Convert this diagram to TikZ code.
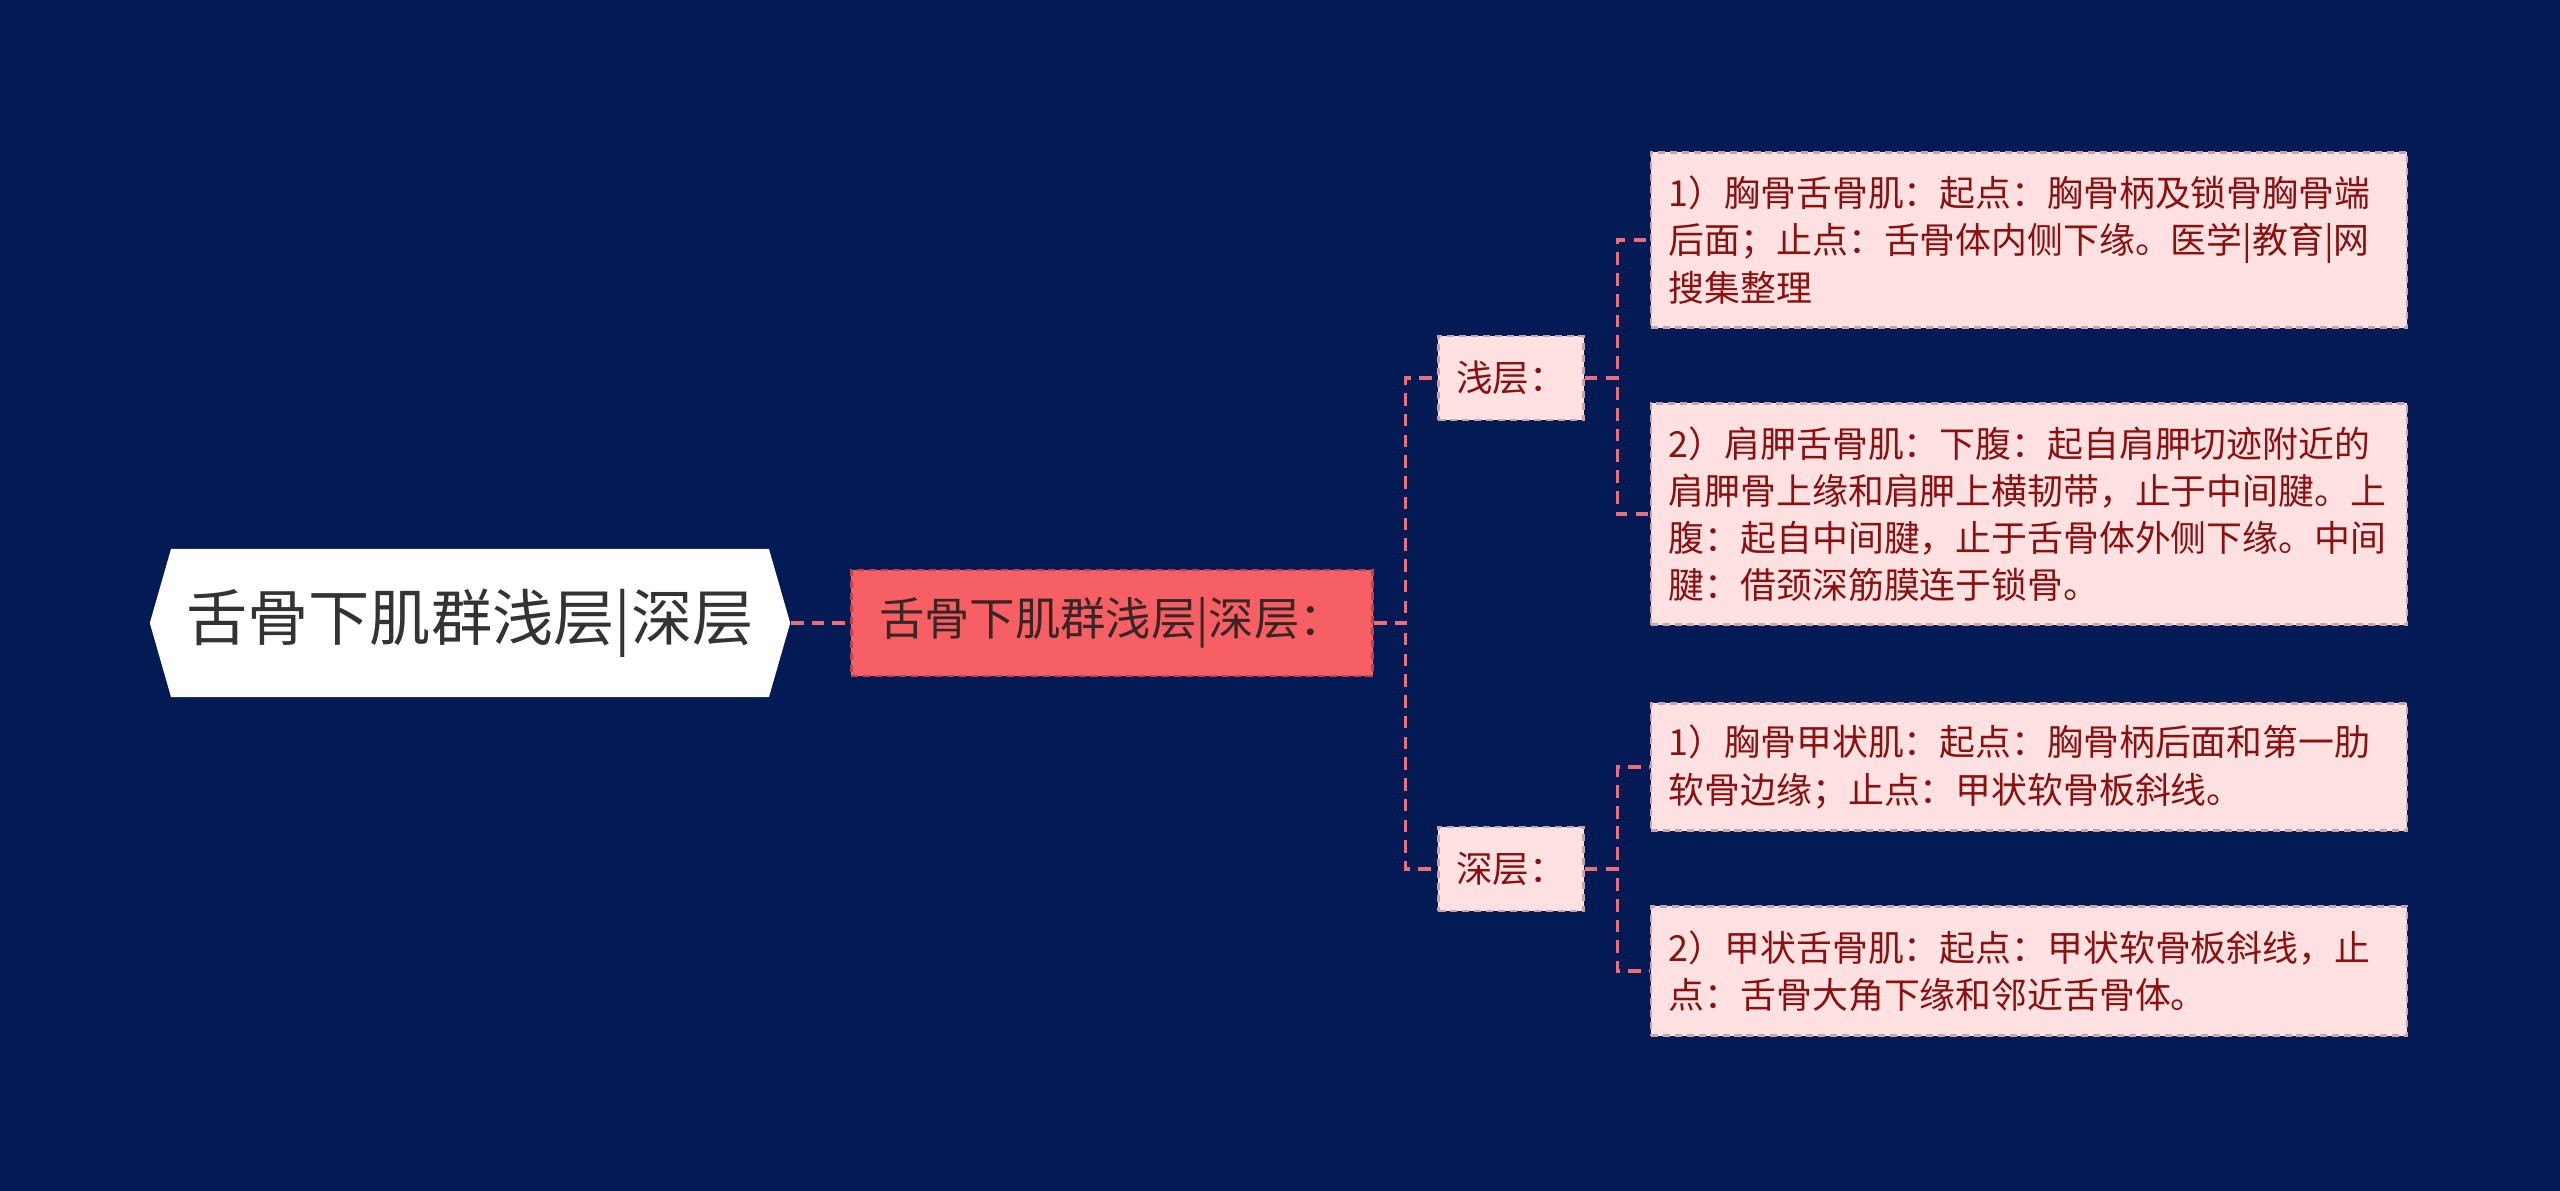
\documentclass[tikz,border=0pt]{standalone}
\usepackage{fontspec}
\newfontfamily\cjk{Noto Sans CJK SC}
\usepackage{tikz}
\usetikzlibrary{shapes.symbols, calc, positioning}

\definecolor{bgnavy}{HTML}{041A55}
\definecolor{linkred}{HTML}{E8707C}
\definecolor{mainred}{HTML}{F66064}
\definecolor{mainedge}{HTML}{B8444C}
\definecolor{maintext}{HTML}{3A2424}
\definecolor{leafpink}{HTML}{FFE1E1}
\definecolor{leafedge}{HTML}{C9A3AA}
\definecolor{leafred}{HTML}{8B1010}
\definecolor{roottext}{HTML}{333333}

\begin{document}
\begin{tikzpicture}[x=0.01cm, y=-0.01cm,
  link/.style={draw=linkred, line width=0.9pt, dash pattern=on 3.6pt off 2.3pt},
  rootbox/.style={signal, signal to=west and east, signal pointer angle=148,
    fill=white, draw=none, text=roottext, minimum width=6.4cm, minimum height=1.48cm,
    inner sep=0pt, font=\cjk\fontsize{17.4pt}{20pt}\selectfont},
  mainbox/.style={fill=mainred, draw=mainedge, dash pattern=on 2pt off 1.4pt,
    line width=0.7pt, text=maintext, minimum width=5.21cm, minimum height=1.06cm,
    inner sep=0pt, font=\cjk\fontsize{12.9pt}{15pt}\selectfont},
  midbox/.style={fill=leafpink, draw=leafedge, dash pattern=on 2pt off 1.4pt,
    line width=0.7pt, text=leafred, minimum width=1.45cm, minimum height=0.84cm,
    inner sep=0pt, font=\cjk\fontsize{10.4pt}{13.4pt}\selectfont},
  leafbox/.style={fill=leafpink, draw=leafedge, dash pattern=on 2pt off 1.4pt,
    line width=0.7pt, text=leafred, text width=7.2cm, inner xsep=0.18cm, inner ysep=0pt,
    align=left, font=\cjk\fontsize{10.2pt}{13.4pt}\selectfont}]

% ── Background ──────────────────────────────────────────────
\fill[bgnavy] (0,0) rectangle (2560,1191);

% ── Root and main topic ─────────────────────────────────────
\node[rootbox] (root) at (470,623) {舌骨下肌群浅层|深层};
\node[mainbox] (main) at (1112,623) {舌骨下肌群浅层|深层：};

% ── Layers ──────────────────────────────────────────────────
\node[midbox] (shallow) at (1511,378) {浅层：};
\node[midbox] (deep) at (1511,869) {深层：};

% ── Muscles ─────────────────────────────────────────────────
\node[leafbox, minimum height=1.75cm] (sterno) at (2029,240)
  {1）胸骨舌骨肌：起点：胸骨柄及锁骨胸骨端\\后面；止点：舌骨体内侧下缘。医学|教育|网\\搜集整理};
\node[leafbox, minimum height=2.21cm] (omo) at (2029,514)
  {2）肩胛舌骨肌：下腹：起自肩胛切迹附近的\\肩胛骨上缘和肩胛上横韧带，止于中间腱。上\\腹：起自中间腱，止于舌骨体外侧下缘。中间\\腱：借颈深筋膜连于锁骨。};
\node[leafbox, minimum height=1.27cm] (thyro) at (2029,767)
  {1）胸骨甲状肌：起点：胸骨柄后面和第一肋\\软骨边缘；止点：甲状软骨板斜线。};
\node[leafbox, minimum height=1.29cm] (thyhy) at (2029,971)
  {2）甲状舌骨肌：起点：甲状软骨板斜线，止\\点：舌骨大角下缘和邻近舌骨体。};

% ── Connectors ──────────────────────────────────────────────
\draw[link] (root.east) -- (main.west);
\foreach \n in {shallow, deep}
  \draw[link] (main.east) -| ($(main.east)!.5!(\n.west)$) |- (\n.west);
\foreach \n in {sterno, omo}
  \draw[link] (shallow.east) -| ($(shallow.east)!.5!(\n.west)$) |- (\n.west);
\foreach \n in {thyro, thyhy}
  \draw[link] (deep.east) -| ($(deep.east)!.5!(\n.west)$) |- (\n.west);

\end{tikzpicture}
\end{document}
